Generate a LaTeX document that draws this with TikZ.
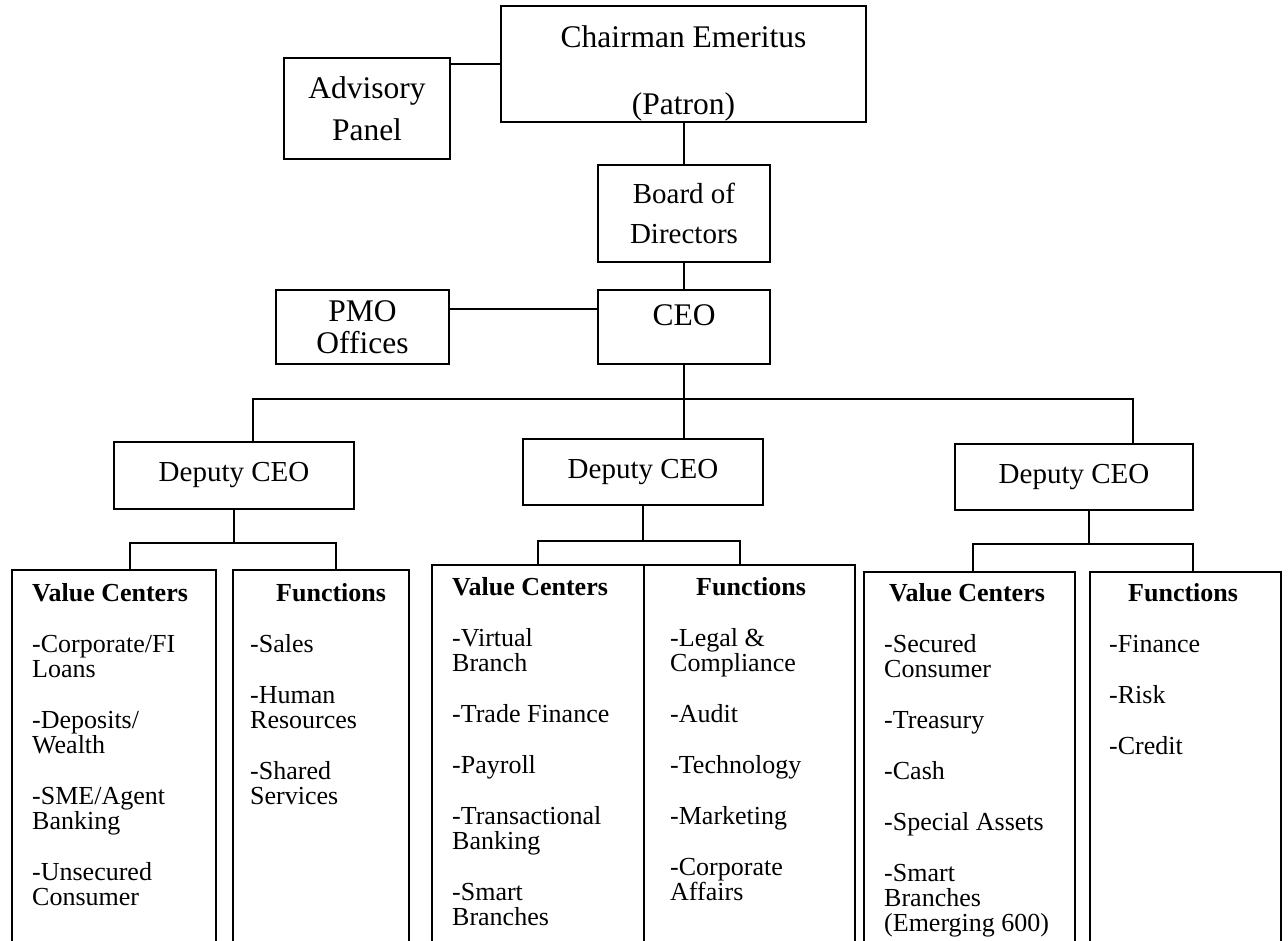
\documentclass[tikz,border=0pt]{standalone}
\usepackage{fontspec}
\setmainfont{Liberation Serif}
\tikzset{
  box/.style={draw,line width=1.9pt,inner sep=0pt,align=center},
  link/.style={line width=1.6pt},
  big/.style={font=\fontsize{31.5}{42}\selectfont},
  deputy/.style={box,font=\fontsize{29}{34}\selectfont,minimum width=240pt,minimum height=67pt},
  panel/.style={box,anchor=north west,minimum height=400pt},
  listtext/.style={inner sep=0pt,anchor=north west,align=left,font=\fontsize{26}{25}\selectfont},
}
\newcommand{\itemgap}{\\[26pt]}

\begin{document}
\begin{tikzpicture}[x=1pt,y=-1pt]
\useasboundingbox (0,0) rectangle (1288,941);
\clip (0,0) rectangle (1288,941);

% top of the chart
\node[box,font=\fontsize{31.5}{36}\selectfont,minimum width=365pt,minimum height=116pt] (chair) at (683.5,64)
  {\rule{0pt}{41pt}Chairman Emeritus\\[31pt](Patron)};
\node[box,big,minimum width=166pt,minimum height=101pt] (adv) at (367,108.5) {Advisory\\Panel};
\node[box,font=\fontsize{29}{40}\selectfont,minimum width=172pt,minimum height=97pt] (board) at (684,213.5) {Board of\\Directors};
\node[box,big,minimum width=172pt,minimum height=74pt] (ceo) at (684,327) {CEO\rule[-24pt]{0pt}{24pt}};
\node[box,font=\fontsize{31.5}{32}\selectfont,minimum width=173pt,minimum height=74pt] (pmo) at (362.5,327) {PMO\\Offices};

\draw[link] (chair.west) -- (chair.west -| adv.east);
\draw[link] (board.north) -- (board.north |- chair.south);
\draw[link] (board.south) -- (ceo.north);
\draw[link] ([yshift=18pt]pmo.east) -- ([yshift=18pt]ceo.west);

% deputies
\node[deputy] (depL) at (234,475.5) {Deputy CEO};
\node[deputy,minimum height=66pt] (depM) at (643,472) {Deputy CEO};
\node[deputy,minimum width=238pt,minimum height=66pt] (depR) at (1074,477) {Deputy CEO};

\coordinate (barL) at (253,399);
\coordinate (barR) at (1133,399);
\draw[link] (ceo.south) -- (ceo.south |- depM.north);
\draw[link] (barL |- depL.north) -- (barL) -- (barR) -- (barR |- depR.north);

% first deputy
\node[panel,minimum width=204pt] (vc1) at (11,569) {};
\node[panel,minimum width=176pt] (fn1) at (232,569) {};
\node[listtext] (vc1txt) at ([xshift=21pt,yshift=-14pt]vc1.north west)
  {\textbf{Value Centers}\itemgap -Corporate/FI\\Loans\itemgap -Deposits/\\Wealth\itemgap
   -SME/Agent\\Banking\itemgap -Unsecured\\Consumer};
\node[listtext] (fn1txt) at ([xshift=18pt,yshift=-14pt]fn1.north west)
  {\hspace*{26pt}\textbf{Functions}\itemgap -Sales\itemgap -Human\\Resources\itemgap -Shared\\Services};
\coordinate (split1L) at (130,543);
\coordinate (split1R) at (336,543);
\draw[link] (depL.south) -- (depL.south |- split1L);
\draw[link] (split1L |- vc1.north) -- (split1L) -- (split1R) -- (split1R |- fn1.north);

% second deputy
\node[panel,minimum width=212pt] (vc2) at (431,564) {};
\node[panel,minimum width=211pt] (fn2) at (643,564) {};
\node[listtext] (vc2txt) at ([xshift=21pt,yshift=-13pt]vc2.north west)
  {\textbf{Value Centers}\itemgap -Virtual\\Branch\itemgap -Trade Finance\itemgap -Payroll\itemgap
   -Transactional\\Banking\itemgap -Smart\\Branches};
\node[listtext] (fn2txt) at ([xshift=27pt,yshift=-13pt]fn2.north west)
  {\hspace*{26pt}\textbf{Functions}\itemgap -Legal \&\\Compliance\itemgap -Audit\itemgap -Technology\itemgap
   -Marketing\itemgap -Corporate\\Affairs};
\coordinate (split2L) at (538,541);
\coordinate (split2R) at (740,541);
\draw[link] (depM.south) -- (depM.south |- split2L);
\draw[link] (split2L |- vc2.north) -- (split2L) -- (split2R) -- (split2R |- fn2.north);

% third deputy
\node[panel,minimum width=211pt] (vc3) at (863,571) {};
\node[panel,minimum width=191pt] (fn3) at (1089,571) {};
\node[listtext] (vc3txt) at ([xshift=21pt,yshift=-12pt]vc3.north west)
  {\hspace*{5pt}\textbf{Value Centers}\itemgap -Secured\\Consumer\itemgap -Treasury\itemgap -Cash\itemgap
   -Special Assets\itemgap -Smart\\Branches\\(Emerging 600)};
\node[listtext] (fn3txt) at ([xshift=20pt,yshift=-12pt]fn3.north west)
  {\hspace*{19pt}\textbf{Functions}\itemgap -Finance\itemgap -Risk\itemgap -Credit};
\coordinate (split3L) at (973,544);
\coordinate (split3R) at (1193,544);
\draw[link] ([xshift=15pt]depR.south) -- ([xshift=15pt]depR.south |- split3L);
\draw[link] (split3L |- vc3.north) -- (split3L) -- (split3R) -- (split3R |- fn3.north);
\end{tikzpicture}
\end{document}
